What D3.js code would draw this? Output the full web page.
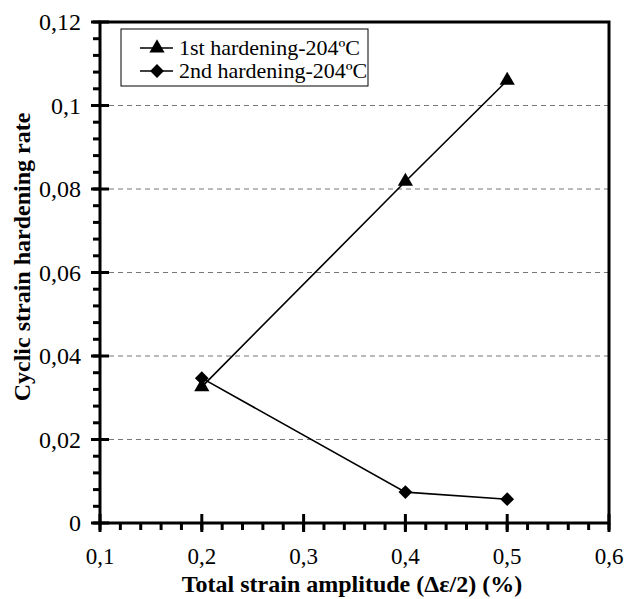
<!DOCTYPE html>
<html>
<head>
<meta charset="utf-8">
<script src="https://cdn.jsdelivr.net/npm/d3@7"></script>
<style>
  body { margin: 0; background: #fff; }
</style>
</head>
<body>
<script>
// data
var strainAmp = [0.2, 0.4, 0.5];
var firstHardening = [0.0326, 0.0818, 0.106];
var secondHardening = [0.0347, 0.0074, 0.0057];
var seriesNames = ["1st hardening-204ºC", "2nd hardening-204ºC"];
var xTicks = [0.1, 0.2, 0.3, 0.4, 0.5, 0.6];
var yTicks = [0, 0.02, 0.04, 0.06, 0.08, 0.1, 0.12];

var width = 624, height = 599;
var margin = {left: 100, right: 15, top: 22, bottom: 76};
var serif = "Liberation Serif";

var svg = d3.select("body").append("svg").attr("width", width).attr("height", height);

var x = d3.scaleLinear().domain([0.1, 0.6]).range([margin.left, width - margin.right]);
var y = d3.scaleLinear().domain([0, 0.12]).range([height - margin.bottom, margin.top]);

var fmt = function(d) { return d === 0 ? "0" : String(+d.toFixed(2)).replace(".", ","); };

// dashed grid lines
svg.selectAll(".grid")
    .data(yTicks.filter(function(d) { return d > 0 && d < 0.12; }))
    .enter().append("line")
    .attr("x1", x(0.1)).attr("x2", x(0.6))
    .attr("y1", function(d) { return y(d); }).attr("y2", function(d) { return y(d); })
    .style("stroke", "#777").style("stroke-width", 1).style("stroke-dasharray", "5,4");

// minor ticks (outside)
var yMinor = d3.range(0, 0.1201, 0.004);
var xMinor = d3.range(0.1, 0.6001, 0.02);
svg.selectAll(".ymin").data(yMinor).enter().append("line")
    .attr("x1", x(0.1) - 7).attr("x2", x(0.1))
    .attr("y1", function(d) { return y(d); }).attr("y2", function(d) { return y(d); })
    .style("stroke", "#000").style("stroke-width", 3);
svg.selectAll(".xmin").data(xMinor).enter().append("line")
    .attr("x1", function(d) { return x(d); }).attr("x2", function(d) { return x(d); })
    .attr("y1", y(0)).attr("y2", y(0) + 7)
    .style("stroke", "#000").style("stroke-width", 3);

// major ticks (crossing)
svg.selectAll(".ymaj").data(yTicks).enter().append("line")
    .attr("x1", x(0.1) - 9).attr("x2", x(0.1) + 9)
    .attr("y1", function(d) { return y(d); }).attr("y2", function(d) { return y(d); })
    .style("stroke", "#000").style("stroke-width", 3);
svg.selectAll(".xmaj").data(xTicks).enter().append("line")
    .attr("x1", function(d) { return x(d); }).attr("x2", function(d) { return x(d); })
    .attr("y1", y(0) - 9).attr("y2", y(0) + 9)
    .style("stroke", "#000").style("stroke-width", 3);

// frame
svg.append("rect")
    .attr("x", x(0.1)).attr("y", y(0.12))
    .attr("width", x(0.6) - x(0.1)).attr("height", y(0) - y(0.12))
    .style("fill", "none").style("stroke", "#000").style("stroke-width", 3);

// tick labels
svg.selectAll(".ylab").data(yTicks).enter().append("text")
    .attr("x", x(0.1) - 19).attr("y", function(d) { return y(d); })
    .attr("dy", "0.34em").attr("text-anchor", "end")
    .style("font-family", serif).style("font-size", "24px").text(fmt);
svg.selectAll(".xlab").data(xTicks).enter().append("text")
    .attr("x", function(d) { return x(d); }).attr("y", y(0) + 41)
    .attr("text-anchor", "middle")
    .style("font-family", serif).style("font-size", "23px").text(fmt);

// axis titles
svg.append("text")
    .attr("x", 352).attr("y", 592).attr("text-anchor", "middle")
    .style("font-family", serif).style("font-size", "24px").style("font-weight", "bold")
    .text("Total strain amplitude (Δε/2) (%)");
svg.append("text")
    .attr("transform", "translate(30,257) rotate(-90)")
    .attr("text-anchor", "middle")
    .style("font-family", serif).style("font-size", "24px").style("font-weight", "bold")
    .text("Cyclic strain hardening rate");

// series
var line = d3.line().x(function(d) { return x(d[0]); }).y(function(d) { return y(d[1]); });
var s1 = d3.zip(strainAmp, firstHardening);
var s2 = d3.zip(strainAmp, secondHardening);
var tri = d3.symbol().type(d3.symbolTriangle).size(100)();
var dia = d3.symbol().type(d3.symbolSquare).size(95)();

function markerTransform(cx, cy, isDia) {
    return "translate(" + cx + "," + cy + ")" + (isDia ? " rotate(45)" : "");
}

[[s1, tri, false], [s2, dia, true]].forEach(function(s) {
    svg.append("path").datum(s[0]).attr("d", line)
        .style("fill", "none").style("stroke", "#000").style("stroke-width", 1.6);
    svg.selectAll(null).data(s[0]).enter().append("path")
        .attr("d", s[1])
        .attr("transform", function(d) { return markerTransform(x(d[0]), y(d[1]), s[2]); })
        .style("fill", "#000");
});

// legend
var lg = svg.append("g");
lg.append("rect").attr("x", 121).attr("y", 29).attr("width", 247).attr("height", 57)
    .style("fill", "#fff").style("stroke", "#000").style("stroke-width", 1);
seriesNames.forEach(function(name, i) {
    var ly = 48 + i * 23;
    lg.append("line").attr("x1", 140).attr("x2", 173).attr("y1", ly).attr("y2", ly)
        .style("stroke", "#000").style("stroke-width", 1.6);
    lg.append("path").attr("d", i === 0 ? tri : dia)
        .attr("transform", markerTransform(157, ly, i === 1)).style("fill", "#000");
    lg.append("text").attr("x", 179).attr("y", ly).attr("dy", "0.34em")
        .style("font-family", serif).style("font-size", "22px").text(name);
});
</script>
</body>
</html>
